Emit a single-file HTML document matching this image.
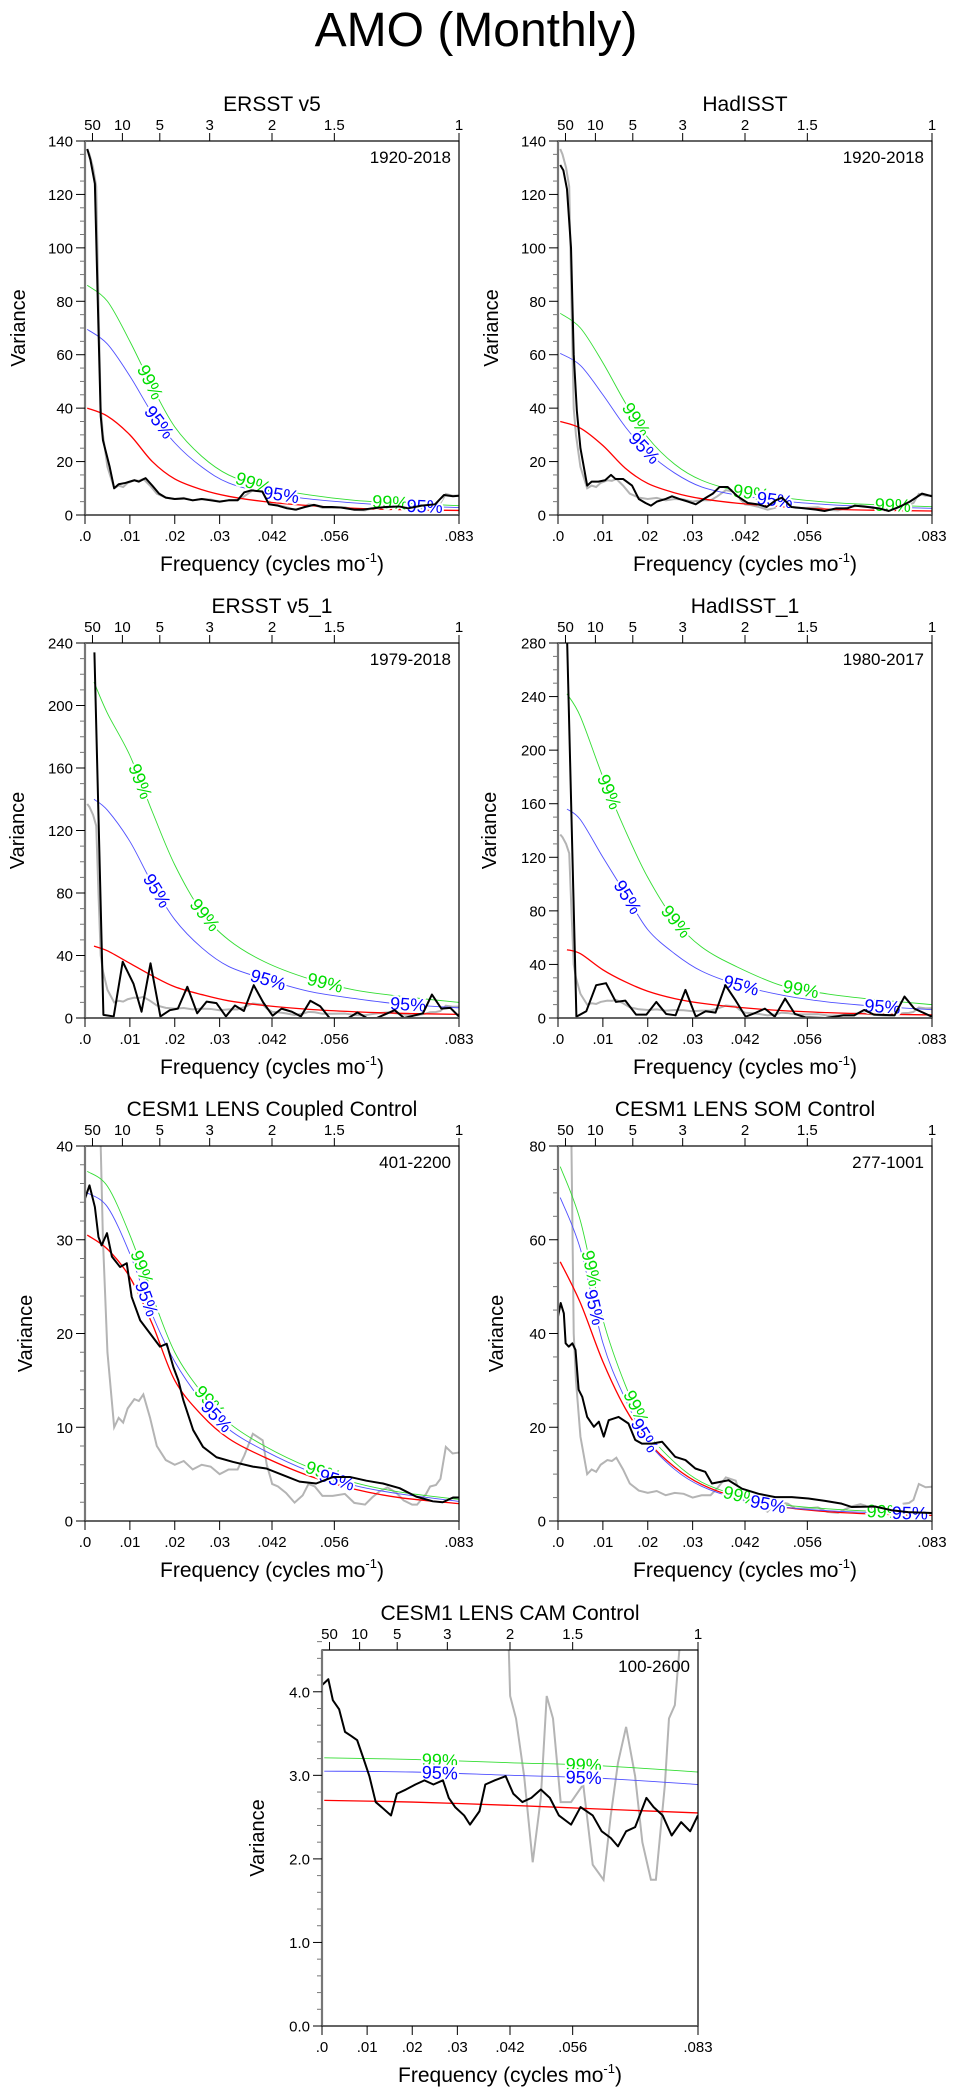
<!DOCTYPE html>
<html><head><meta charset="utf-8"><title>AMO (Monthly)</title>
<style>
html,body{margin:0;padding:0;background:#fff;}
svg{display:block;font-family:"Liberation Sans",Arial,sans-serif;}
</style></head>
<body>
<svg id="fig" width="953" height="2091" viewBox="0 0 953 2091" xmlns="http://www.w3.org/2000/svg">
<rect x="0" y="0" width="953" height="2091" fill="#fff"/>
<text x="476" y="46" font-size="48" text-anchor="middle">AMO (Monthly)</text>
</svg>
<script>
// ---------- shared reference (gray) spectrum ----------
const grayF = [0.0005,0.001,0.0018,0.0025,0.003,0.0035,0.004,0.005,0.0065,0.0075,0.0085,0.0095,0.011,0.012,0.013,0.0145,0.016,0.018,0.02,0.022,0.024,0.026,0.028,0.03,0.032,0.034,0.0355,0.0374,0.0396,0.0405,0.0414,0.0417,0.043,0.0448,0.0467,0.0485,0.0498,0.0512,0.0529,0.0552,0.0579,0.06,0.0624,0.064,0.0656,0.0674,0.0694,0.071,0.0729,0.074,0.076,0.0769,0.0782,0.0792,0.0804,0.0819,0.0833];
const grayV = [137,135,130,123,80,40,30,18,10,11,10.5,12,13,12.8,13.5,11,8,6.5,6,6.4,5.5,6,5.8,5,5.5,5.5,7,9.3,8.6,6,4.5,3.95,3.68,2.99,1.96,2.73,3.95,3.68,2.68,2.68,2.89,1.93,1.75,2.52,3.15,3.58,2.99,2.2,1.75,1.75,2.89,3.68,3.84,4.5,7.9,7.2,7.3];

// ---------- threshold frequency grids ----------
const thrF = [0.0005,0.005,0.01,0.015,0.02,0.026,0.032,0.04,0.05,0.06,0.07,0.0833];
const thrF34 = [0.002,0.005,0.01,0.015,0.02,0.026,0.032,0.04,0.05,0.06,0.07,0.0833];
const thrF7 = [0.0005,0.02,0.042,0.06,0.0833];

// ---------- Panel 1: ERSST v5 ----------
const p1BlackF = [0.0005,0.0012,0.0022,0.003,0.0035,0.004,0.0055,0.0065,0.0075,0.009,0.011,0.012,0.0135,0.015,0.0165,0.018,0.02,0.022,0.024,0.026,0.028,0.03,0.032,0.034,0.0355,0.037,0.0395,0.041,0.043,0.045,0.047,0.049,0.051,0.053,0.055,0.057,0.06,0.062,0.064,0.067,0.07,0.072,0.075,0.078,0.08,0.082,0.0833];
const p1BlackV = [137,133,124,70,37,28,18,10,11.5,12,13,12.5,13.8,11,8,6.5,6,6.2,5.5,6,5.5,5,5.5,5.5,8.5,9.2,8.8,4,3.5,2.5,2,3,3.8,3,3,2.8,2,2,2.5,3,3.2,2.5,3.5,4,7.5,7,7.2];
const p1Red = [40,37,30,20,13.5,9.5,7,5,3.5,2.5,2,1.7];
const p1Blue = [69.5,64,52,38,27,18,12,8.5,6,4.5,3.5,2.8];
const p1Green = [86,80,65,48,33,22,15,10.5,7.5,5.5,4.5,3.5];
const p1LabF = [0.0145,0.0165,0.0375,0.0437,0.068,0.0757];
const p1LabT = ['99%','95%','99%','95%','99%','95%'];

// ---------- Panel 2: HadISST ----------
const p2BlackF = [0.0005,0.0012,0.002,0.0029,0.0035,0.0042,0.005,0.0065,0.0075,0.009,0.0105,0.0118,0.0128,0.0145,0.0165,0.018,0.0195,0.0207,0.022,0.024,0.0254,0.027,0.029,0.0307,0.033,0.0345,0.036,0.0378,0.04,0.0423,0.0445,0.0465,0.0485,0.0499,0.052,0.055,0.0575,0.0594,0.062,0.0645,0.0661,0.069,0.0715,0.0737,0.076,0.0784,0.0811,0.0833];
const p2BlackV = [131,129,122,100,60,39,25,11,12.5,12.5,13,15,13.5,13.5,11,6,4.5,3.5,5,6,7,6,5,4,6.5,8,10.5,10.5,7,4.5,4,3,5.5,6.5,3,2.5,2,1.5,2.5,2.5,3.5,3,2.5,1.5,3,5,8,7];
const p2Red = [35,32.5,26,17.5,11.8,8.3,6.1,4.4,3.1,2.2,1.8,1.5];
const p2Blue = [60.5,56,45,33,23.5,15.7,10.5,7.4,5.2,3.9,3.1,2.5];
const p2Green = [75.5,70,57,42,29,19,13,9,6.5,4.8,3.9,3.1];
const p2LabF = [0.0174,0.0192,0.043,0.0483,0.0746];
const p2LabT = ['99%','95%','99%','95%','99%'];

// ---------- Panel 3: ERSST v5_1 ----------
const p3BlackF = [0.0021,0.0041,0.0064,0.0084,0.0108,0.0126,0.0146,0.0168,0.0189,0.0207,0.0228,0.025,0.0271,0.0293,0.0314,0.0334,0.0354,0.0376,0.0397,0.0418,0.0438,0.0461,0.0481,0.0502,0.0524,0.0545,0.0587,0.0607,0.0628,0.065,0.069,0.0711,0.0753,0.0773,0.0794,0.0814,0.0833];
const p3BlackV = [234,2,1,36,22,4,35,1,5,6,20,3,10.5,9.5,1,8,4.5,21,10,1.5,6,4,1,11,7.5,0,0,3.5,0,0,5,0,3,15,6,6.5,1];
const p3Red = [46,43,35,27,20,15,11,8,5.5,4,3,2.3];
const p3Blue = [140,133,113,86,63,45,33,25,17,12.5,9,6.5];
const p3Green = [215,195,168,132,98,68,50,36,25,18,14,10];
const p3LabF = [0.0123,0.016,0.0267,0.0408,0.0535,0.072];
const p3LabT = ['99%','95%','99%','95%','99%','95%'];

// ---------- Panel 4: HadISST_1 ----------
const p4BlackF = [0.0019,0.0041,0.0063,0.0085,0.0107,0.0129,0.015,0.0174,0.0197,0.0219,0.0241,0.0262,0.0284,0.0307,0.0329,0.0351,0.0373,0.0396,0.0418,0.0441,0.0461,0.0483,0.0506,0.0528,0.0551,0.0596,0.0637,0.066,0.0682,0.0704,0.075,0.0772,0.0794,0.0833];
const p4BlackV = [300,1,5,24.5,26,12,13,2.5,2.5,12,3,2,21,1,5,4,24.5,13,1,4,7,1,14.5,3,0.5,0,2,2,6,2.5,2,16,7,1];
const p4Red = [51,48,36,27,20,14.5,11,8,5.5,4,3,2.3];
const p4Blue = [156,148,120,93,66,48,35,25,17,12,9,6.2];
const p4Green = [242,225,180,140,105,73,53,38,24,18,14,10];
const p4LabF = [0.0114,0.0155,0.0263,0.0408,0.0541,0.0723];
const p4LabT = ['99%','95%','99%','95%','99%','95%'];

// ---------- Panel 5: CESM1 LENS Coupled Control ----------
const p5BlackF = [0.0,0.001,0.0022,0.003,0.0037,0.0049,0.006,0.0078,0.0093,0.0104,0.0123,0.0145,0.0167,0.0182,0.0197,0.0208,0.0219,0.0241,0.0263,0.0293,0.033,0.0374,0.0404,0.0441,0.0478,0.0515,0.0553,0.059,0.0627,0.0664,0.0701,0.0738,0.0775,0.0797,0.082,0.0833];
const p5BlackV = [34.4,35.8,33.5,30.3,29.4,30.7,28.2,27.1,27.5,23.9,21.4,20,18.6,18.9,16.4,15,12.9,9.7,7.9,6.8,6.3,5.8,5.6,4.9,4.2,4.0,4.7,4.7,4.3,4.0,3.5,2.6,2.1,2.0,2.5,2.5];
const p5Red = [30.5,29,26,21,15,11.3,8.8,6.8,4.8,3.4,2.5,1.85];
const p5Blue = [35,33.5,28.5,22,17,12.8,9.8,7.5,5.3,3.8,2.9,2.1];
const p5Green = [37.3,35.7,30.5,24,18,13.7,10.5,8,5.7,4.1,3.1,2.3];
const p5LabF = [0.0127,0.0137,0.0278,0.0293,0.0531,0.0561];
const p5LabT = ['99%','95%','99%','95%','99%','95%'];

// ---------- Panel 6: CESM1 LENS SOM Control ----------
const p6BlackF = [0.0,0.0006,0.0013,0.0017,0.0024,0.0032,0.0039,0.0046,0.0054,0.0065,0.008,0.0091,0.0102,0.0113,0.0135,0.0157,0.0172,0.0187,0.0209,0.0232,0.0261,0.0284,0.0306,0.0328,0.0343,0.038,0.041,0.0447,0.0484,0.0521,0.0558,0.0595,0.0632,0.0654,0.0706,0.0743,0.078,0.0833];
const p6BlackV = [43.6,46.5,44.3,37.9,37.2,37.9,36.5,28,26.5,22.2,20.1,21.2,18,21.5,22.2,20.8,17.3,16.5,16.5,16.9,13.7,13,11.2,10.5,8,8.7,6.9,5.8,5.1,5.1,4.8,4.3,3.7,3,3.1,2.3,1.9,1.7];
const p6Red = [55.3,46.5,34,24,17,11.5,7.8,5,3,2,1.5,1.2];
const p6Blue = [69,58,38,26,17,11,7.4,4.8,3,2.2,1.8,1.6];
const p6Green = [75.6,64,43,29,19,12.5,8.3,5.5,3.5,2.6,2.1,1.8];
const p6LabF = [0.0074,0.0081,0.0174,0.0193,0.0408,0.0468,0.0728,0.0784];
const p6LabT = ['99%','95%','99%','95%','99%','95%','99%','95%'];

// ---------- Panel 7: CESM1 LENS CAM Control ----------
const p7BlackF = [0.0,0.0014,0.0024,0.0038,0.0051,0.0065,0.0078,0.0092,0.0105,0.0119,0.0132,0.0153,0.0166,0.0186,0.0207,0.0227,0.0247,0.0268,0.0281,0.0295,0.0315,0.0328,0.0349,0.0362,0.0383,0.0407,0.0424,0.0444,0.0464,0.0485,0.0505,0.0525,0.0552,0.0573,0.06,0.062,0.064,0.0656,0.0674,0.0694,0.0719,0.0735,0.0755,0.0775,0.0796,0.0816,0.0833];
const p7BlackV = [4.08,4.15,3.9,3.79,3.52,3.47,3.42,3.2,2.99,2.68,2.62,2.52,2.78,2.83,2.89,2.94,2.89,2.94,2.73,2.62,2.52,2.41,2.57,2.89,2.94,2.99,2.78,2.68,2.73,2.83,2.73,2.52,2.41,2.62,2.52,2.33,2.25,2.15,2.33,2.38,2.73,2.62,2.52,2.28,2.44,2.33,2.52];
const p7Red = [2.70,2.68,2.64,2.60,2.55];
const p7Blue = [3.05,3.04,3.00,2.97,2.89];
const p7Green = [3.21,3.19,3.15,3.12,3.04];
const p7LabF = [0.0261,0.0261,0.058,0.058];
const p7LabT = ['99%','95%','99%','95%'];

// ---------- axis tick definitions ----------
const botTickF = [0, 0.01, 0.02, 0.03, 1/24, 1/18, 1/12];
const botTickL = ['.0','.01','.02','.03','.042','.056','.083'];
const topTickP = [50,10,5,3,2,1.5,1];
const topTickL = ['50','10','5','3','2','1.5','1'];

const panels = [
  {key:'ersst-v5', title:'ERSST v5', years:'1920-2018', x:85, y:141, w:374, h:374, ymax:140, major:20, minor:5, dec:0, bF:p1BlackF, bV:p1BlackV, tF:thrF, red:p1Red, blue:p1Blue, green:p1Green, lF:p1LabF, lT:p1LabT, vOff:67},
  {key:'hadisst', title:'HadISST', years:'1920-2018', x:558, y:141, w:374, h:374, ymax:140, major:20, minor:5, dec:0, bF:p2BlackF, bV:p2BlackV, tF:thrF, red:p2Red, blue:p2Blue, green:p2Green, lF:p2LabF, lT:p2LabT, vOff:67},
  {key:'ersst-v5-1', title:'ERSST v5_1', years:'1979-2018', x:85, y:643, w:374, h:375, ymax:240, major:40, minor:10, dec:0, bF:p3BlackF, bV:p3BlackV, tF:thrF34, red:p3Red, blue:p3Blue, green:p3Green, lF:p3LabF, lT:p3LabT, vOff:68},
  {key:'hadisst-1', title:'HadISST_1', years:'1980-2017', x:558, y:643, w:374, h:375, ymax:280, major:40, minor:10, dec:0, bF:p4BlackF, bV:p4BlackV, tF:thrF34, red:p4Red, blue:p4Blue, green:p4Green, lF:p4LabF, lT:p4LabT, vOff:69},
  {key:'coupled-control', title:'CESM1 LENS Coupled Control', years:'401-2200', x:85, y:1146, w:374, h:375, ymax:40, major:10, minor:2, dec:0, bF:p5BlackF, bV:p5BlackV, tF:thrF, red:p5Red, blue:p5Blue, green:p5Green, lF:p5LabF, lT:p5LabT, vOff:60},
  {key:'som-control', title:'CESM1 LENS SOM Control', years:'277-1001', x:558, y:1146, w:374, h:375, ymax:80, major:20, minor:5, dec:0, bF:p6BlackF, bV:p6BlackV, tF:thrF, red:p6Red, blue:p6Blue, green:p6Green, lF:p6LabF, lT:p6LabT, vOff:62},
  {key:'cam-control', title:'CESM1 LENS CAM Control', years:'100-2600', x:322, y:1650, w:376, h:376, ymax:4.5, major:1, minor:0.2, dec:1, bF:p7BlackF, bV:p7BlackV, tF:thrF7, red:p7Red, blue:p7Blue, green:p7Green, lF:p7LabF, lT:p7LabT, vOff:65}
];

const NS = 'http://www.w3.org/2000/svg';
const svg = document.getElementById('fig');
function mk(tag, attrs, parent){
  const e = document.createElementNS(NS, tag);
  for (const k in attrs) e.setAttribute(k, attrs[k]);
  (parent || svg).appendChild(e);
  return e;
}
function smoothPath(pts){
  if (pts.length < 2) return '';
  let d = 'M' + pts[0][0].toFixed(2) + ',' + pts[0][1].toFixed(2);
  for (let i = 0; i < pts.length - 1; i++){
    const p0 = pts[i-1] || pts[i], p1 = pts[i], p2 = pts[i+1], p3 = pts[i+2] || p2;
    const c1x = p1[0] + (p2[0]-p0[0])/6, c1y = p1[1] + (p2[1]-p0[1])/6;
    const c2x = p2[0] - (p3[0]-p1[0])/6, c2y = p2[1] - (p3[1]-p1[1])/6;
    d += ' C' + c1x.toFixed(2)+','+c1y.toFixed(2)+' '+c2x.toFixed(2)+','+c2y.toFixed(2)+' '+p2[0].toFixed(2)+','+p2[1].toFixed(2);
  }
  return d;
}
function linePath(pts){
  return pts.map((p,i)=>(i?'L':'M')+p[0].toFixed(2)+','+p[1].toFixed(2)).join(' ');
}
function interp(F, V, f){
  if (f <= F[0]) return V[0];
  for (let i = 0; i < F.length-1; i++){
    if (f <= F[i+1]){ const t = (f-F[i])/(F[i+1]-F[i]); return V[i] + t*(V[i+1]-V[i]); }
  }
  return V[V.length-1];
}

panels.forEach((p, pi) => {
  const FMAX = 1/12;
  const xs = f => p.x + f / FMAX * p.w;
  const ys = v => p.y + p.h - v / p.ymax * p.h;
  const g = mk('g', {});
  
  

  const cp = mk('clipPath', {id:'clip'+pi}, g);
  mk('rect', {x:p.x, y:p.y, width:p.w, height:p.h}, cp);

  const t = mk('text', {x:p.x+p.w/2, y:p.y-30, 'font-size':21, 'text-anchor':'middle'}, g);
  t.textContent = p.title;
  
  

  const plot = mk('g', {'clip-path':'url(#clip'+pi+')'}, g);
  
  

  const gp = mk('path', {d:linePath(grayF.map((f,i)=>[xs(f), ys(grayV[i])])), fill:'none', stroke:'#b4b4b4', 'stroke-width':2}, plot);
  
  

  const rp = mk('path', {d:smoothPath(p.tF.map((f,i)=>[xs(f), ys(p.red[i])])), fill:'none', stroke:'#ff0000', 'stroke-width':1.3}, plot);
  
  
  const bp = mk('path', {d:smoothPath(p.tF.map((f,i)=>[xs(f), ys(p.blue[i])])), fill:'none', stroke:'#5050ff', 'stroke-width':0.9}, plot);
  
  
  const grp = mk('path', {d:smoothPath(p.tF.map((f,i)=>[xs(f), ys(p.green[i])])), fill:'none', stroke:'#33dd33', 'stroke-width':0.9}, plot);
  
  

  p.lF.forEach((f, i) => {
    const arr = p.lT[i] === '99%' ? p.green : p.blue;
    const col = p.lT[i] === '99%' ? '#00dd00' : '#0000ff';
    const df = 0.0015;
    const x1 = xs(f-df), y1 = ys(interp(p.tF, arr, f-df)), x2 = xs(f+df), y2 = ys(interp(p.tF, arr, f+df));
    const ang = Math.atan2(y2-y1, x2-x1) * 180 / Math.PI;
    const cx = xs(f), cy = ys(interp(p.tF, arr, f));
    const lt = mk('text', {x:0, y:6, 'font-size':18, 'text-anchor':'middle', fill:col, stroke:'#fff', 'stroke-width':4, 'paint-order':'stroke', transform:'translate('+cx.toFixed(1)+','+cy.toFixed(1)+') rotate('+ang.toFixed(1)+')'}, plot);
    lt.textContent = p.lT[i];
    
    
  });

  const kp = mk('path', {d:linePath(p.bF.map((f,i)=>[xs(f), ys(p.bV[i])])), fill:'none', stroke:'#000', 'stroke-width':2, 'stroke-linejoin':'round'}, plot);
  
  

  const fr = mk('rect', {x:p.x, y:p.y, width:p.w, height:p.h, fill:'none', stroke:'#000', 'stroke-width':1.2}, g);
  
  
  const la = mk('line', {x1:p.x, y1:p.y, x2:p.x, y2:p.y+p.h, stroke:'#777', 'stroke-width':2.2}, g);
  
  
  const ba = mk('line', {x1:p.x, y1:p.y+p.h, x2:p.x+p.w, y2:p.y+p.h, stroke:'#555', 'stroke-width':1.8}, g);
  
  

  const nMinor = Math.round(p.ymax / p.minor);
  for (let k = 0; k <= nMinor; k++){
    const v = k * p.minor;
    const isMajor = Math.abs(v/p.major - Math.round(v/p.major)) < 1e-6;
    const yy = ys(v);
    const tk = mk('line', {x1:p.x-(isMajor?9:5), y1:yy, x2:p.x, y2:yy, stroke:isMajor?'#000':'#777', 'stroke-width':1}, g);
    
    
    if (isMajor){
      const tl = mk('text', {x:p.x-12, y:yy+5.5, 'font-size':15, 'text-anchor':'end'}, g);
      tl.textContent = v.toFixed(p.dec);
      
      
    }
  }
  botTickF.forEach((f, i) => {
    const xx = xs(f);
    const tk = mk('line', {x1:xx, y1:p.y+p.h, x2:xx, y2:p.y+p.h+9, stroke:'#000', 'stroke-width':1}, g);
    
    
    const tl = mk('text', {x:xx, y:p.y+p.h+26, 'font-size':15, 'text-anchor':'middle'}, g);
    tl.textContent = botTickL[i];
    
    
  });
  topTickP.forEach((per, i) => {
    const xx = xs(1/(12*per));
    const tk = mk('line', {x1:xx, y1:p.y-8, x2:xx, y2:p.y, stroke:'#000', 'stroke-width':1}, g);
    
    
    const tl = mk('text', {x:xx, y:p.y-11, 'font-size':15, 'text-anchor':'middle'}, g);
    tl.textContent = topTickL[i];
    
    
  });
  const yl = mk('text', {x:p.x+p.w-8, y:p.y+22, 'font-size':17, 'text-anchor':'end'}, g);
  yl.textContent = p.years;
  
  
  const yt = mk('text', {x:0, y:0, 'font-size':20, 'text-anchor':'middle', transform:'translate('+(p.x-p.vOff+7)+','+(p.y+p.h/2)+') rotate(-90)'}, g);
  yt.textContent = 'Variance';
  
  
  const xt = mk('text', {x:p.x+p.w/2, y:p.y+p.h+56, 'font-size':21, 'text-anchor':'middle'}, g);
  
  
  const s1 = mk('tspan', {}, xt); s1.textContent = 'Frequency (cycles mo';
  const s2 = mk('tspan', {'font-size':13, dy:-9}, xt); s2.textContent = '-1';
  const s3 = mk('tspan', {dy:9}, xt); s3.textContent = ')';
});
</script>
</body></html>
